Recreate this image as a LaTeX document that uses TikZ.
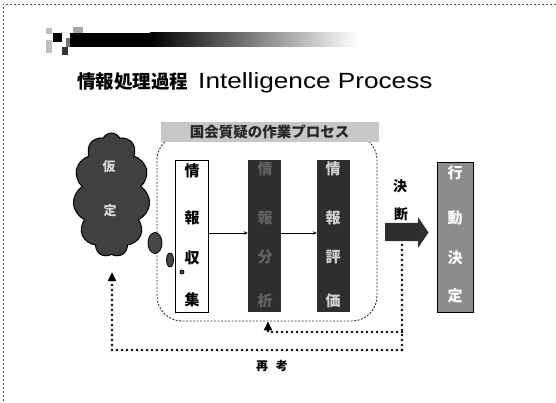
\documentclass[tikz,border=0pt]{standalone}
\usepackage{fontspec}
\setmainfont{Liberation Sans}
\newfontfamily\cjk{Noto Sans CJK JP}
\usetikzlibrary{shapes.symbols,shapes.geometric,arrows.meta}
\begin{document}
\begin{tikzpicture}[x=1pt,y=-1pt,
  frame/.style={draw=black!70, line width=0.6pt, dash pattern=on 2pt off 2pt},
  procbox/.style={draw=black!80, line width=0.9pt, dash pattern=on 2pt off 1.5pt, rounded corners=25pt, minimum width=220pt, minimum height=186pt, inner sep=0pt},
  band/.style={fill=black!22, minimum width=218pt, minimum height=20pt, inner sep=0pt, font=\cjk\bfseries\fontsize{14.5}{14.5}\selectfont, text=black!85},
  vbox/.style={minimum width=33pt, minimum height=152pt, inner sep=0pt},
  chr/.style={inner sep=0pt, font=\cjk\bfseries\fontsize{15}{15}\selectfont},
  thinarrow/.style={draw=black, line width=0.6pt, -{Stealth[length=4pt,width=3.5pt]}},
  dots/.style={draw=black, line width=2.6pt, dash pattern=on 0pt off 5pt, line cap=round},
  tipstyle/.style={-{Triangle[width=8pt,length=9pt]}},
  bubble/.style={ellipse, draw=black, line width=0.8pt, fill=black!72, inner sep=0pt}
]
\useasboundingbox (0,0) rectangle (556,403);
% slide frame
\draw[frame] (556,4) -- (3,4) -- (3,403);
% header ornament
\fill[black!25] (46,28) rectangle (52,34);
\fill[black!25] (46,40) rectangle (52,53);
\fill[black!35] (73,27) rectangle (83,36);
\fill[black!55] (66,38) rectangle (73,47);
\fill[black] (53,33) rectangle (62,42);
\fill[black!80] (62,47) rectangle (68,55);
\fill[black] (70,33) rectangle (150,47);
\shade[left color=black, right color=white] (150,33) rectangle (358,47);
% title
\node[anchor=base west, inner sep=0pt, font=\cjk\bfseries\fontsize{18.5}{18.5}\selectfont] (titlej) at (77,89) {情報処理過程};
\node[anchor=base west, inner sep=0pt, font=\fontsize{22}{22}\selectfont, xscale=1.19] (titlee) at (198,89) {Intelligence Process};
% process box and band
\node[procbox] (proc) at (267,228) {};
\node[band] (band) at (269.5,132) {国会質疑の作業プロセス};
% three stage boxes
\node[vbox, draw=black, line width=0.9pt, fill=white] (collect) at (191.5,236) {};
\node[vbox, fill=black!82] (analyse) at (264.5,236) {};
\node[vbox, fill=black!82] (evaluate) at (333.5,236) {};
\node[chr] (c1) at (192,171) {情};
\node[chr] (c2) at (192,218) {報};
\node[chr] (c3) at (192,258) {収};
\node[chr] (c4) at (192,300) {集};
\node[chr, text=black!62] (a1) at (265,169) {情};
\node[chr, text=black!62] (a2) at (265,218) {報};
\node[chr, text=black!62] (a3) at (265,257) {分};
\node[chr, text=black!62] (a4) at (265,301) {析};
\node[chr, text=black!18] (e1) at (333,169) {情};
\node[chr, text=black!18] (e2) at (333,218) {報};
\node[chr, text=black!18] (e3) at (333,257) {評};
\node[chr, text=black!18] (e4) at (333,301) {価};
\draw[thinarrow] ([yshift=3pt]collect.east) -- ([yshift=3pt]analyse.west);
\draw[thinarrow] ([yshift=3pt]analyse.east) -- ([yshift=3pt]evaluate.west);
% hypothesis cloud
\node[cloud, cloud puffs=11, cloud puff arc=125, cloud ignores aspect, minimum width=77pt, minimum height=124pt, inner sep=0pt, draw=black, line width=1pt, fill=black!75] (hyp) at (111.5,195) {};
\node[chr, text=black!15, font=\cjk\bfseries\fontsize{13}{13}\selectfont] (h1) at (109,167) {仮};
\node[chr, text=black!15, font=\cjk\bfseries\fontsize{13}{13}\selectfont] (h2) at (110,211) {定};
\node[bubble, minimum width=14pt, minimum height=21pt] (b1) at (155,243) {};
\node[bubble, minimum width=7pt, minimum height=14pt] (b2) at (170,260) {};
\node[bubble, minimum width=4pt, minimum height=4pt] (b3) at (182,272) {};
% decision
\node[chr, font=\cjk\bfseries\fontsize{14}{14}\selectfont] (d1) at (400,186) {決};
\node[chr, font=\cjk\bfseries\fontsize{14}{14}\selectfont] (d2) at (401,214) {断};
\fill[black!82] (385,223) -- (418,223) -- (418,217) -- (428.5,232.5) -- (418,248) -- (418,241) -- (385,241) -- cycle;
% action
\node[draw=black, line width=0.8pt, fill=black!45, minimum width=36pt, minimum height=150pt, inner sep=0pt] (act) at (455,237) {};
\node[chr, text=white] (k1) at (455,173) {行};
\node[chr, text=white] (k2) at (455,218) {動};
\node[chr, text=white] (k3) at (455,258) {決};
\node[chr, text=white] (k4) at (455,296) {定};
% feedback loops
\coordinate (fb0) at (402,245);
\coordinate (fb1) at (402,350);
\coordinate (fb2) at (112,350);
\coordinate (fbtip) at (112,272);
\coordinate (fi0) at (402,332);
\coordinate (fi1) at (268,332);
\draw[dots] (fb0) -- (fb1);
\draw[dots, tipstyle] (fb1) -- (fb2) -- (fbtip);
\draw[dots, tipstyle] (fi0) -- (fi1) -- (fi1 |- proc.south);
\node[chr, font=\cjk\bfseries\fontsize{12}{12}\selectfont] (rethink) at (272,366) {再\hspace{8pt}考};
\end{tikzpicture}
\end{document}
